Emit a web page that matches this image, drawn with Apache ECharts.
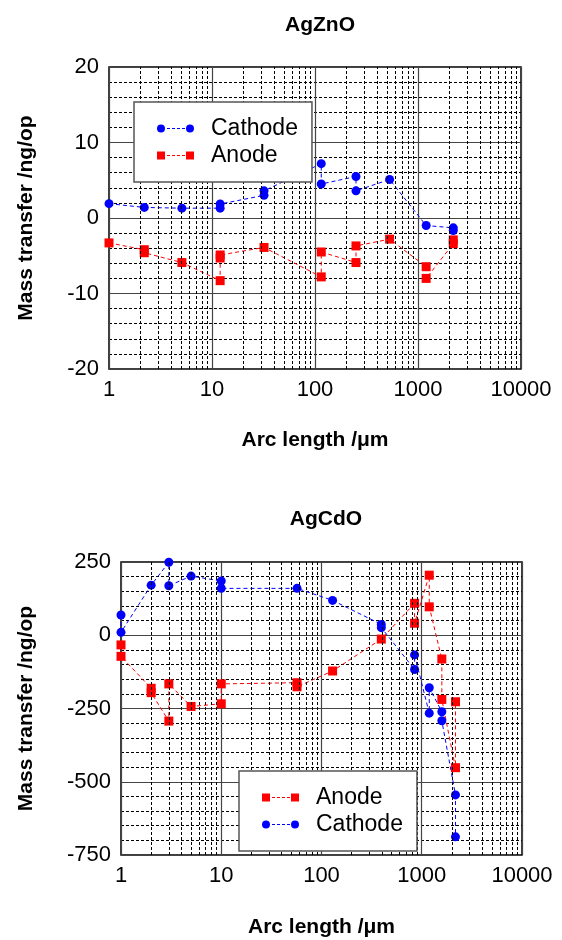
<!DOCTYPE html>
<html>
<head>
<meta charset="utf-8">
<script src="https://cdn.jsdelivr.net/npm/echarts@6/dist/echarts.min.js"></script>
<style>
html, body { margin: 0; padding: 0; background: #fff; }
#chart { width: 562px; height: 940px; }
</style>
</head>
<body>
<div id="chart"></div>
<script>
// AgZnO, arc length (um) vs mass transfer (ng/op), points in plotting order
var znCathode = [[1, 1.9], [2.2, 1.4], [5.1, 1.3], [12, 1.3], [12, 1.85], [32, 3.0], [32, 3.6],
	[115, 7.2], [115, 4.5], [250, 5.5], [250, 3.6], [530, 5.1], [1200, -1.0], [2200, -1.3], [2200, -1.65]];
var znAnode = [[1, -3.3], [2.2, -4.2], [2.2, -4.6], [5.1, -5.9], [12, -8.3], [12, -5.3], [12, -4.9],
	[32, -3.9], [115, -7.8], [115, -4.5], [250, -5.9], [250, -3.7], [530, -2.8], [1200, -6.45],
	[1200, -8.0], [2200, -3.4], [2200, -2.9]];

// AgCdO
var cdAnode = [[1, -33], [1, -72], [2, -181], [2, -196], [3, -293], [3, -166], [5, -243], [10, -234],
	[10, -166], [57, -162], [57, -176], [129, -122], [395, -13], [848, 109], [848, 41], [1188, 205],
	[1188, 97], [1586, -81], [1586, -219], [2170, -452], [2170, -227]];
var cdCathode = [[1, 69], [1, 10], [2, 171], [3, 249], [3, 169], [5, 202], [10, 185], [10, 160],
	[57, 160], [129, 119], [395, 37], [395, 26], [848, -117], [848, -67], [1188, -266], [1188, -179],
	[1586, -261], [1586, -292], [2170, -545], [2170, -688]];

// minor log grid lines
var minorX = [2, 3, 4, 5, 6, 7, 8, 9, 20, 30, 40, 50, 60, 70, 80, 90,
	200, 300, 400, 500, 600, 700, 800, 900, 2000, 3000, 4000, 5000, 6000, 7000, 8000, 9000];

var FONT = '"Liberation Sans", Arial, Helvetica, sans-serif';
var circleIcon = 'path://M0,4A4,4 0 1,1 8,4A4,4 0 1,1 0,4Z' +
	'M10,3.5L13,3.5L13,4.5L10,4.5ZM15,3.5L18,3.5L18,4.5L15,4.5ZM20,3.5L23,3.5L23,4.5L20,4.5ZM25,3.5L28,3.5L28,4.5L25,4.5Z' +
	'M29,4A4,4 0 1,1 37,4A4,4 0 1,1 29,4Z';
var squareIcon = 'path://M0,0L8,0L8,8L0,8Z' +
	'M10,3.5L13,3.5L13,4.5L10,4.5ZM15,3.5L18,3.5L18,4.5L15,4.5ZM20,3.5L23,3.5L23,4.5L20,4.5ZM25,3.5L28,3.5L28,4.5L25,4.5Z' +
	'M29,0L37,0L37,8L29,8Z';

function makeX(idx, gap) {
	return {
		type: 'log', logBase: 10, min: 1, max: 10000, gridIndex: idx,
		name: 'Arc length /μm', nameLocation: 'middle', nameGap: gap,
		nameTextStyle: { fontSize: 21, fontWeight: 'bold', color: '#000', fontFamily: FONT },
		axisLine: { show: false }, axisTick: { show: false },
		axisLabel: {
			fontSize: 22, color: '#000', margin: 10, fontFamily: FONT,
			showMinLabel: true, showMaxLabel: true,
			formatter: function(v) { return String(Math.round(v)); }
		},
		splitLine: { show: true, lineStyle: { color: '#444', width: 1.2 } }
	};
}

function makeY(idx, min, max, step, gap) {
	return {
		type: 'value', min: min, max: max, interval: step, gridIndex: idx,
		name: 'Mass transfer /ng/op', nameLocation: 'middle', nameGap: gap,
		nameTextStyle: { fontSize: 21, fontWeight: 'bold', color: '#000', fontFamily: FONT },
		axisLine: { show: false }, axisTick: { show: false },
		axisLabel: { fontSize: 22, color: '#000', margin: 10, fontFamily: FONT },
		splitLine: { show: true, lineStyle: { color: '#444', width: 1.2 } },
		minorTick: { show: false, splitNumber: 5 },
		minorSplitLine: { show: true, lineStyle: { color: '#000', width: 1, type: [3, 2] } }
	};
}

function gridLines(idx) {
	return {
		type: 'line', xAxisIndex: idx, yAxisIndex: idx, data: [], silent: true, z: 1,
		markLine: {
			silent: true, symbol: 'none', animation: false,
			label: { show: false },
			lineStyle: { color: '#000', width: 1, type: [3, 2] },
			data: minorX.map(function(v) { return { xAxis: v }; })
		}
	};
}

function makeSeries(name, idx, data, color, symbol) {
	return {
		type: 'line', name: name, xAxisIndex: idx, yAxisIndex: idx, data: data, z: 3,
		symbol: symbol, symbolSize: 9,
		itemStyle: { color: color },
		lineStyle: { color: color, width: 1, type: [4, 3] }
	};
}

function makeLegend(left, top, names) {
	return {
		left: left, top: top, orient: 'vertical', z: 20,
		itemWidth: 37, itemHeight: 8, itemGap: 4,
		padding: [15, 14, 15, 23],
		backgroundColor: '#ffffff', borderColor: '#555', borderWidth: 1.5,
		textStyle: { fontSize: 23, color: '#000', fontFamily: FONT, padding: [0, 0, 0, 12] },
		data: names.map(function(n) {
			return { name: n, icon: n === 'Cathode' ? circleIcon : squareIcon };
		})
	};
}

var myChart = echarts.init(document.getElementById('chart'), null, { renderer: 'canvas' });

var option = {
	animation: false,
	backgroundColor: '#fff',
	title: [
		{ text: 'AgZnO', left: 315, top: 10, textAlign: 'center',
			textStyle: { fontSize: 21, fontWeight: 'bold', color: '#000', fontFamily: FONT } },
		{ text: 'AgCdO', left: 321, top: 504, textAlign: 'center',
			textStyle: { fontSize: 21, fontWeight: 'bold', color: '#000', fontFamily: FONT } }
	],
	legend: [
		makeLegend(134, 102, ['Cathode', 'Anode']),
		makeLegend(239, 771, ['Anode', 'Cathode'])
	],
	grid: [
		{ left: 109, top: 67, width: 412, height: 302, show: true, borderColor: '#000', borderWidth: 1.5,
			backgroundColor: 'transparent', outerBoundsMode: 'none' },
		{ left: 121, top: 562, width: 401, height: 293, show: true, borderColor: '#000', borderWidth: 1.5,
			backgroundColor: 'transparent', outerBoundsMode: 'none' }
	],
	xAxis: [makeX(0, 61), makeX(1, 62)],
	yAxis: [makeY(0, -20, 20, 10, 72), makeY(1, -750, 250, 250, 84)],
	series: [
		gridLines(0),
		gridLines(1),
		makeSeries('Cathode', 0, znCathode, '#0000ff', 'circle'),
		makeSeries('Anode', 0, znAnode, '#ff0000', 'rect'),
		makeSeries('Anode', 1, cdAnode, '#ff0000', 'rect'),
		makeSeries('Cathode', 1, cdCathode, '#0000ff', 'circle')
	]
};

myChart.setOption(option);
</script>
</body>
</html>
